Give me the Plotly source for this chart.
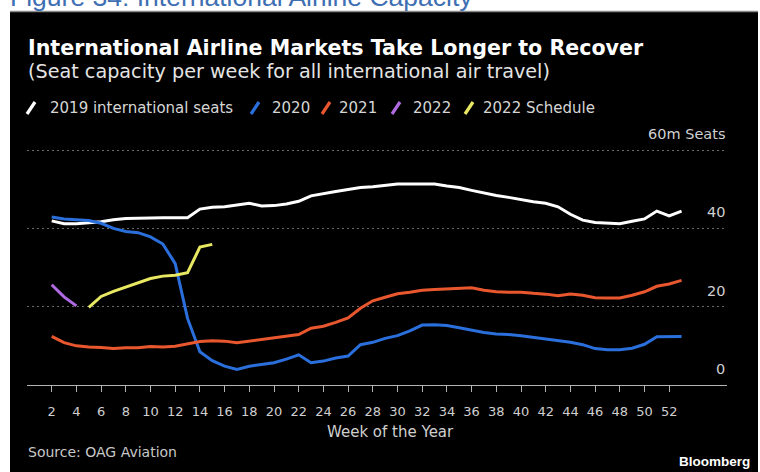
import plotly.graph_objects as go

# ---------------- data ----------------
weeks = list(range(2, 54))
seats_2019 = [41.9, 41.2, 41.2, 41.4, 41.7, 42.2, 42.5, 42.6, 42.7, 42.7, 42.7, 42.7,
              44.9, 45.4, 45.5, 46.0, 46.4, 45.7, 45.8, 46.2, 46.9, 48.3,
              48.9, 49.4, 49.9, 50.4, 50.6, 50.9, 51.3, 51.3, 51.3, 51.3,
              50.8, 50.4, 49.7, 49.0, 48.4, 47.9, 47.3, 46.8, 46.4, 45.5,
              43.6, 42.1, 41.5, 41.3, 41.2, 41.8, 42.4, 44.4, 43.2, 44.4]
seats_2020 = [42.9, 42.4, 42.2, 42.0, 41.3, 40.0, 39.2, 38.9, 37.8, 36.0, 31.0, 17.0,
              8.5, 6.2, 4.8, 4.0, 4.8, 5.3, 5.7, 6.6, 7.7, 5.7,
              6.1, 6.9, 7.4, 10.3, 10.9, 11.9, 12.6, 13.8, 15.3, 15.4,
              15.2, 14.6, 14.0, 13.4, 13.0, 12.9, 12.6, 12.2, 11.8, 11.4,
              10.9, 10.3, 9.3, 9.0, 9.0, 9.4, 10.4, 12.3, 12.4, 12.4]
seats_2021 = [12.4, 10.8, 10.0, 9.7, 9.6, 9.3, 9.5, 9.5, 9.8, 9.7, 9.9, 10.5,
              11.1, 11.3, 11.2, 10.8, 11.2, 11.6, 12.1, 12.4, 12.9, 14.5,
              15.0, 16.0, 17.1, 19.6, 21.5, 22.4, 23.3, 23.7, 24.2, 24.4,
              24.5, 24.6, 24.8, 24.2, 23.8, 23.7, 23.7, 23.4, 23.2, 22.8,
              23.2, 22.9, 22.3, 22.2, 22.2, 22.9, 23.8, 25.2, 25.8, 26.7]
weeks_2022 = [2, 3, 4]
seats_2022 = [25.6, 22.5, 20.2]
weeks_2022_schedule = list(range(5, 16))
seats_2022_schedule = [19.8, 22.6, 23.9, 25.0, 25.9, 27.2, 27.8, 28.0, 28.7, 35.2, 35.9]

series_names = ["2019 international seats", "2020", "2021", "2022", "2022 Schedule"]
series_x = [weeks, weeks, weeks, weeks_2022, weeks_2022_schedule]
series_y = [seats_2019, seats_2020, seats_2021, seats_2022, seats_2022_schedule]
series_colors = ["#ffffff", "#2a6fdb", "#e9572f", "#b06be3", "#e8e862"]

x_tick_vals = list(range(2, 53, 2))
x_tick_text = [str(v) for v in x_tick_vals]
y_tick_vals = [0, 20, 40, 60]
y_tick_text = ["0", "20", "40", "60m Seats"]

# ---------------- layout geometry ----------------
W, H = 760, 472
ML, MR, MT, MB = 27, 33, 120, 87
PW = W - ML - MR
PH = H - MT - MB


def px(xpix):
    return (xpix - ML) / PW


def py(ypix):
    return (H - MB - ypix) / PH


fig = go.Figure()

for name, xs, ys, col in zip(series_names, series_x, series_y, series_colors):
    fig.add_trace(go.Scatter(x=xs, y=ys, mode="lines", name=name,
                             line=dict(color=col, width=3),
                             showlegend=False, hoverinfo="x+y+name"))

sans = "DejaVu Sans"

annotations = [
    dict(text="Figure 34: International Airline Capacity", xref="paper", yref="paper",
         x=px(8), y=py(13.6), xanchor="left", yanchor="bottom", showarrow=False,
         font=dict(family="Liberation Sans", size=26.5, color="#3f6fb3")),
    dict(text="<b>International Airline Markets Take Longer to Recover</b>",
         xref="paper", yref="paper", x=px(26), y=py(48), xanchor="left", yanchor="middle",
         showarrow=False, font=dict(family=sans, size=20.6, color="#ffffff")),
    dict(text="(Seat capacity per week for all international air travel)",
         xref="paper", yref="paper", x=px(26), y=py(71), xanchor="left", yanchor="middle",
         showarrow=False, font=dict(family=sans, size=19.2, color="#e4e4e4")),
    dict(text="Week of the Year", xref="paper", yref="paper", x=px(390), y=py(432),
         xanchor="center", yanchor="middle", showarrow=False,
         font=dict(family=sans, size=15, color="#d0d0d0")),
    dict(text="Source: OAG Aviation", xref="paper", yref="paper", x=px(26), y=py(452),
         xanchor="left", yanchor="middle", showarrow=False,
         font=dict(family=sans, size=14, color="#c8c8c8")),
    dict(text="<b>Bloomberg</b>", xref="paper", yref="paper", x=px(752), y=py(461),
         xanchor="right", yanchor="middle", showarrow=False,
         font=dict(family="Liberation Sans", size=13.5, color="#ffffff")),
]
# y-axis value labels, placed through the y scale just above their gridlines
for v, t in zip(y_tick_vals, y_tick_text):
    annotations.append(dict(text=t, xref="paper", yref="y", x=1.0, y=v,
                            xanchor="right", yanchor="middle", yshift=16, showarrow=False,
                            font=dict(family=sans, size=14.5, color="#d0d0d0")))

# legend: coloured slash + label for each series, laid out like the original key
shapes = [
    dict(type="rect", xref="paper", yref="paper", x0=px(10), x1=px(758),
         y0=py(480), y1=py(12), fillcolor="#000000", line=dict(width=0), layer="below"),
    dict(type="line", xref="paper", yref="paper", x0=px(10), x1=px(758),
         y0=py(11.5), y1=py(11.5), line=dict(color="#8a8a8a", width=1.5), layer="below"),
]
legend_slash_center = [31, 255, 326, 396, 469]
legend_text_left = [48, 270, 337, 411, 481]
legend_mid = 108
for name, col, cx, tx in zip(series_names, series_colors, legend_slash_center, legend_text_left):
    shapes.append(dict(type="line", xref="paper", yref="paper",
                       x0=px(cx - 4), y0=py(legend_mid + 6), x1=px(cx + 4), y1=py(legend_mid - 6),
                       line=dict(color=col, width=3.2), layer="above"))
    annotations.append(dict(text=name, xref="paper", yref="paper", x=px(tx), y=py(legend_mid),
                            xanchor="left", yanchor="middle", showarrow=False,
                            font=dict(family=sans, size=15, color="#d6d6d6")))

fig.update_layout(
    width=W, height=H,
    margin=dict(l=ML, r=MR, t=MT, b=MB, pad=0),
    paper_bgcolor="#ffffff",
    plot_bgcolor="#000000",
    font=dict(family=sans, color="#d0d0d0", size=13),
    showlegend=False,
    xaxis=dict(range=[0, 56.68], tickvals=x_tick_vals, ticktext=x_tick_text,
               showgrid=False, zeroline=False, showline=True, linecolor="#b4b4b4",
               linewidth=1, ticks="outside", ticklen=6, tickwidth=1, tickcolor="#b4b4b4",
               tickfont=dict(family=sans, size=13, color="#cfcfcf"),
               ticklabelstandoff=8, fixedrange=True),
    yaxis=dict(range=[0, PH / (235 / 60)], tickvals=y_tick_vals,
               showticklabels=False, ticks="",
               showgrid=True, gridcolor="#6a6a6a", gridwidth=1, griddash="2px,3px",
               zeroline=False, showline=False, fixedrange=True),
    shapes=shapes,
    annotations=annotations,
)

fig.write_html("out.html", config={"displayModeBar": False},
               post_script="document.body.style.margin='0px';document.body.style.padding='0px';")
